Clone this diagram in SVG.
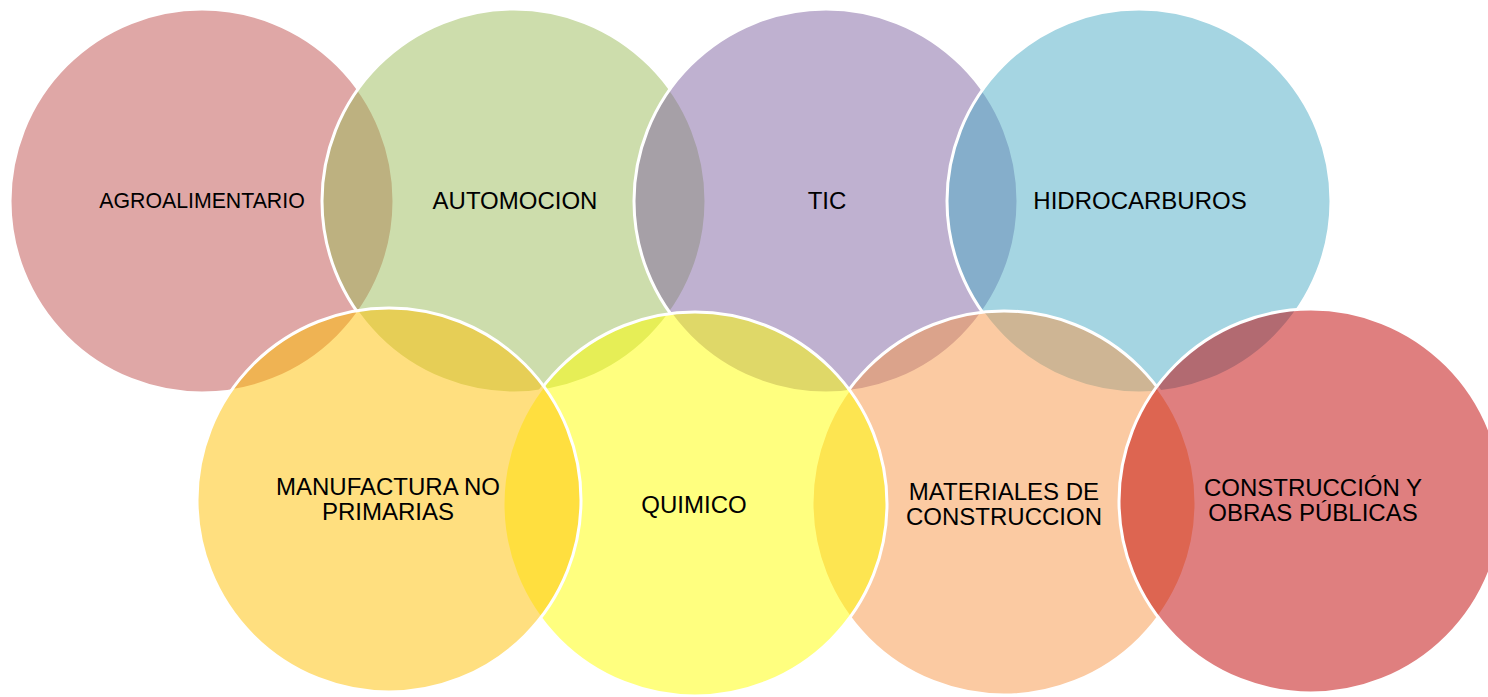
<svg xmlns="http://www.w3.org/2000/svg" width="1488" height="697" viewBox="0 0 1488 697">
<style>
.c{stroke:#ffffff;stroke-width:3;fill-opacity:0.5}
.t{font-family:"Liberation Sans",Arial,sans-serif;font-size:24px;fill:#000000;text-anchor:middle}
</style>
<rect width="1488" height="697" fill="#ffffff"/>
<g id="agroalimentario"><circle class="c" cx="202" cy="201" r="192" fill="#C0504D"/><text class="t" x="202" y="208" style="font-size:21.3px">AGROALIMENTARIO</text></g>
<g id="automocion"><circle class="c" cx="514" cy="201" r="192" fill="#9BBB59"/><text class="t" x="515" y="209">AUTOMOCION</text></g>
<g id="tic"><circle class="c" cx="826" cy="201" r="192" fill="#8064A2"/><text class="t" x="827" y="209">TIC</text></g>
<g id="hidrocarburos"><circle class="c" cx="1139" cy="201" r="192" fill="#4BACC6"/><text class="t" x="1140" y="209">HIDROCARBUROS</text></g>
<g id="materiales"><circle class="c" cx="1004" cy="503" r="192" fill="#F79646"/><text class="t" x="1004" y="500">MATERIALES DE</text><text class="t" x="1004" y="525">CONSTRUCCION</text></g>
<g id="quimico"><circle class="c" cx="695" cy="504" r="192" fill="#FFFF00"/><text class="t" x="694" y="513">QUIMICO</text></g>
<g id="manufactura"><circle class="c" cx="389" cy="500" r="192" fill="#FFC000"/><text class="t" x="388" y="495">MANUFACTURA NO</text><text class="t" x="388" y="520">PRIMARIAS</text></g>
<g id="construccion"><circle class="c" cx="1311" cy="501" r="192" fill="#C00000"/><text class="t" x="1313" y="496">CONSTRUCCIÓN Y</text><text class="t" x="1313" y="521">OBRAS PÚBLICAS</text></g>
<g id="connectors"></g>
</svg>
